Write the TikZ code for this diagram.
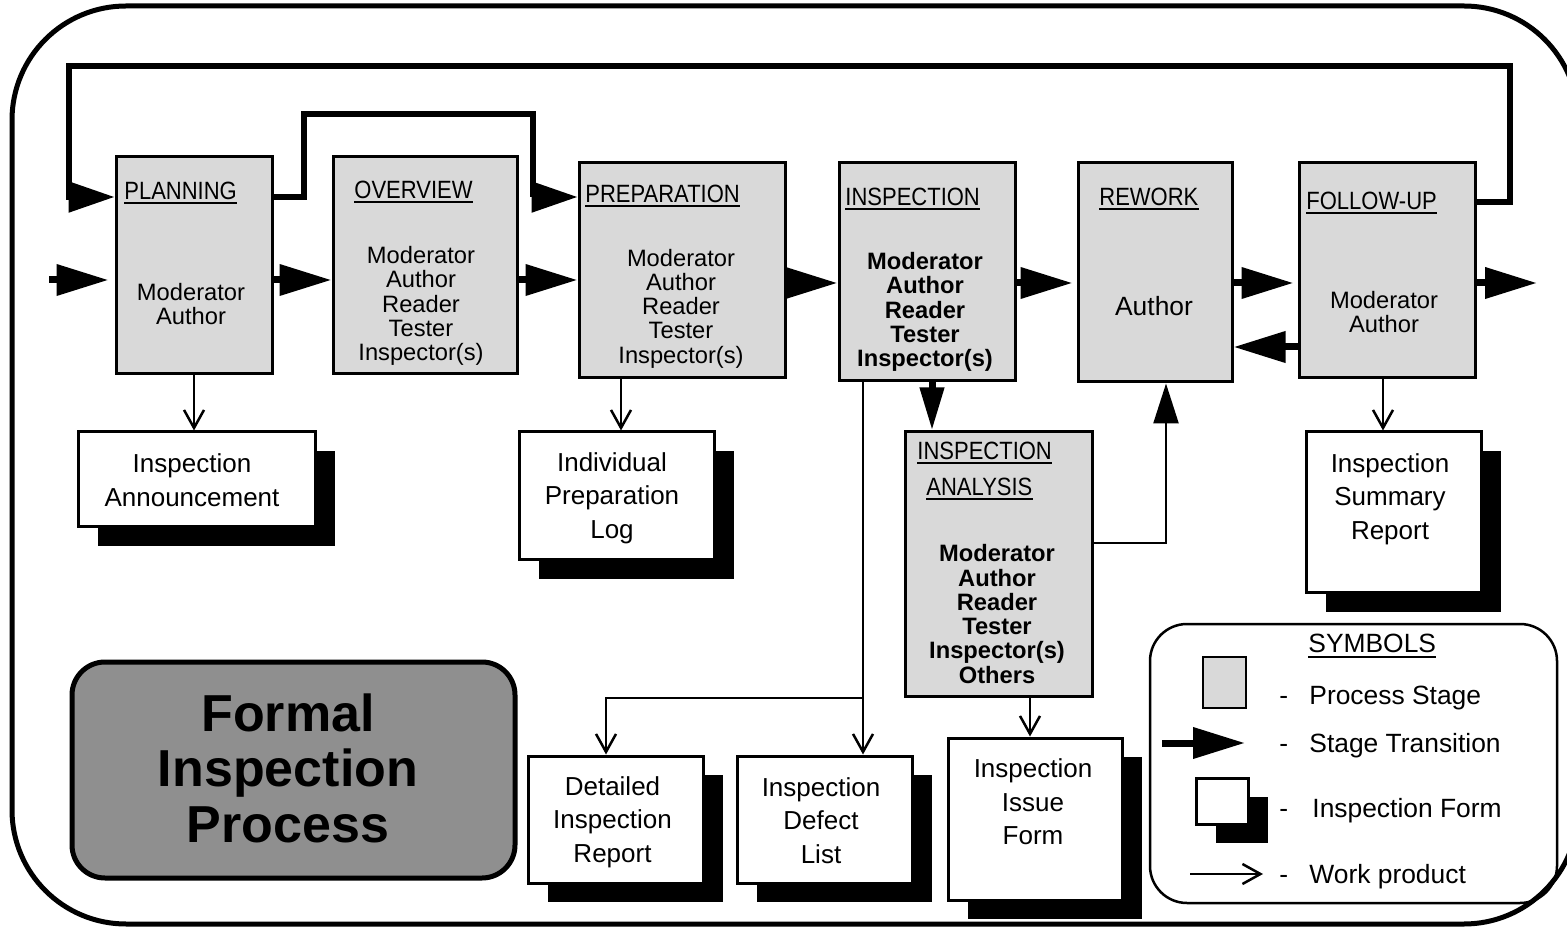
\documentclass[tikz,border=0pt]{standalone}
\usepackage{fontspec}
\setmainfont{Liberation Sans}
\newfontfamily\narrowfont[FakeStretch=0.88]{Liberation Sans}
\usetikzlibrary{arrows.meta,shadows}
\definecolor{stagegray}{RGB}{217,217,217}
\definecolor{titlegray}{RGB}{143,143,143}
\begin{document}
\begin{tikzpicture}[x=0.5pt,y=-0.5pt,
  stage/.style={draw, line width=1.5pt, fill=stagegray, inner sep=0pt},
  form/.style={draw, line width=1.5pt, fill=white, inner sep=0pt,
    drop shadow={shadow xshift=10pt, shadow yshift=-9.5pt, fill=black, opacity=1}},
  ttl/.style={inner sep=0pt, anchor=base west, font=\narrowfont\fontsize{12.5pt}{14pt}\selectfont},
  ulline/.style={line width=1pt},
  body/.style={align=center, inner sep=0pt, font=\fontsize{11.85pt}{12.15pt}\selectfont},
  boldbody/.style={align=center, inner sep=0pt, font=\bfseries\fontsize{11.85pt}{12.15pt}\selectfont},
  formtxt/.style={align=center, inner sep=0pt, font=\fontsize{13pt}{16.75pt}\selectfont},
  legtxt/.style={inner sep=0pt, anchor=base west, font=\fontsize{13.2pt}{15pt}\selectfont},
  trans/.style={line width=3.5pt, -{Triangle[length=26pt,width=15pt]}},
  loopline/.style={line width=2.75pt, -{Triangle[length=23pt,width=15pt]}},
  wp/.style={line width=1.25pt, -{Straight Barb[length=9pt,width=10pt]}}
]
\useasboundingbox (0,0) rectangle (1567,929);

% outer frame
\draw[line width=2.5pt, rounded corners=57pt] (12,6) rectangle (1578,924);

% stage boxes
\node[stage, minimum width=78pt, minimum height=108.5pt] (plan) at (194,265.5) {};
\node[stage, minimum width=92pt, minimum height=108.5pt] (over) at (425,265.5) {};
\node[stage, minimum width=103pt, minimum height=107.5pt] (prep) at (682,270.5) {};
\node[stage, minimum width=88pt, minimum height=109pt] (insp) at (927,272) {};
\node[stage, minimum width=77pt, minimum height=109.5pt] (rew) at (1155,272.5) {};
\node[stage, minimum width=88pt, minimum height=107.5pt] (foll) at (1387,270.5) {};
\node[stage, minimum width=93.5pt, minimum height=132pt] (ana) at (998.5,564) {};

% stage titles
\node[ttl] (tPlan) at (124,200) {PLANNING};
\node[ttl] (tOver) at (354,199) {OVERVIEW};
\node[ttl] (tPrep) at (585,203) {PREPARATION};
\node[ttl] (tInsp) at (845,206) {INSPECTION};
\node[ttl] (tRew) at (1099,206) {REWORK};
\node[ttl] (tFoll) at (1306,210) {FOLLOW-UP};
\node[ttl] (tAna1) at (917,460) {INSPECTION};
\node[ttl] (tAna2) at (926,496) {ANALYSIS};
\foreach \t in {tPlan,tOver,tPrep,tInsp,tRew,tFoll,tAna1,tAna2}{
  \draw[ulline] ([yshift=-1.75pt]\t.base west) -- ([yshift=-1.75pt]\t.base east);
}

% stage participants
\node[body] (planT) at (191,304) {Moderator\\Author};
\node[body] (overT) at (421,306) {Moderator\\Author\\Reader\\Tester\\Inspector(s)};
\node[body] (prepT) at (681,308.5) {Moderator\\Author\\Reader\\Tester\\Inspector(s)};
\node[boldbody] (inspT) at (925,312) {Moderator\\Author\\Reader\\Tester\\Inspector(s)};
\node[body, font=\fontsize{13.2pt}{15pt}\selectfont] (rewT) at (1154,306) {Author};
\node[body] (follT) at (1384,312) {Moderator\\Author};
\node[boldbody] (anaT) at (997,614) {Moderator\\Author\\Reader\\Tester\\Inspector(s)\\Others};

% inspection forms
\node[form, minimum width=118.5pt, minimum height=47.5pt] (ann) at (196.5,479.5) {};
\node[form, minimum width=97.5pt, minimum height=64pt] (log) at (616.5,496) {};
\node[form, minimum width=87.5pt, minimum height=63.5pt] (det) at (615.5,819.5) {};
\node[form, minimum width=87.5pt, minimum height=63.5pt] (def) at (824.5,819.5) {};
\node[form, minimum width=87pt, minimum height=81pt] (iss) at (1035,819) {};
\node[form, minimum width=87.5pt, minimum height=80.5pt] (sum) at (1393.5,512.5) {};

\node[formtxt] (annT) at (192,480) {Inspection\\Announcement};
\node[formtxt] (logT) at (612,498) {Individual\\Preparation\\Log};
\node[formtxt] (detT) at (612.5,822) {Detailed\\Inspection\\Report};
\node[formtxt] (defT) at (821,820.5) {Inspection\\Defect\\List};
\node[formtxt] (issT) at (1033,802) {Inspection\\Issue\\Form};
\node[formtxt] (sumT) at (1390,499) {Inspection\\Summary\\Report};

% title box
\node[draw, line width=2.5pt, fill=titlegray, rounded corners=16.5pt,
      minimum width=221.5pt, minimum height=108pt, inner sep=0pt] (formal) at (293.5,770) {};
\node[align=center, inner sep=0pt, font=\bfseries\fontsize{26pt}{27.75pt}\selectfont]
      (formalT) at (288,768) {Formal\\Inspection\\Process};

% stage transitions
\coordinate (inP) at (49,280);
\coordinate (outP) at (1537,283);
\draw[trans, shorten >=3pt] (inP) -- (plan.west |- inP);
\draw[trans] (plan.east |- inP) -- (over.west |- inP);
\draw[trans] (over.east |- inP) -- (prep.west |- inP);
\draw[trans] (prep.east |- outP) -- (insp.west |- outP);
\draw[trans, shorten >=2pt] (insp.east |- outP) -- (rew.west |- outP);
\draw[trans, shorten >=2pt] (rew.east |- outP) -- (foll.west |- outP);
\draw[trans] (foll.east |- outP) -- (outP);
\draw[trans] (foll.west |- 0,347) -- (rew.east |- 0,347);
\draw[line width=3.5pt, -{Triangle[length=21.5pt,width=11.5pt]}] (insp.south -| 932,0) -- (ana.north -| 932,0);

% feedback loops
\draw[loopline] (foll.east |- 0,202) -- (1510,202) -- (1510,66) -- (69,66) -- (69,197) -- (plan.west |- 0,197);
\draw[loopline] (plan.east |- 0,197) -- (304,197) -- (304,114) -- (533,114) -- (533,197) -- (prep.west |- 0,197);

% work products
\draw[wp] (plan.south) -- (plan.south |- ann.north);
\draw[wp] (prep.south -| 621,0) -- (log.north -| 621,0);
\coordinate (br) at (863,698);
\draw[wp] (insp.south -| br) -- (def.north -| br);
\draw[wp] (br) -- (606,698) -- (det.north -| 606,0);
\draw[wp] (ana.south -| 1030,0) -- (iss.north -| 1030,0);
\draw[wp] (foll.south -| 1383,0) -- (sum.north -| 1383,0);
\draw[line width=1.25pt, -{Triangle[length=20pt,width=12.5pt]}] (ana.east |- 0,543) -- (1166,543) -- (rew.south -| 1166,0);

% legend
\node[draw, line width=1.25pt, rounded corners=18.5pt, minimum width=203.5pt,
      minimum height=139.5pt, inner sep=0pt] (legend) at (1353.5,763.5) {};
\node[legtxt] (symT) at (1308,653) {SYMBOLS};
\draw[ulline] ([yshift=-1.75pt]symT.base west) -- ([yshift=-1.75pt]symT.base east);
\node[stage, line width=1.25pt, minimum width=21.5pt, minimum height=25.5pt] (symStage) at (1224.5,682.5) {};
\coordinate (lt1) at (1162,743);
\coordinate (lt2) at (1245,743);
\draw[trans] (lt1) -- (lt2);
\node[form, minimum width=26pt, minimum height=23pt] (symForm) at (1222,801) {};
\coordinate (lw1) at (1190,874);
\coordinate (lw2) at (1263,874);
\draw[wp] (lw1) -- (lw2);
\node[legtxt] (d1) at (1279,704) {-};
\node[legtxt] (l1) at (1309,704) {Process Stage};
\node[legtxt] (d2) at (1279,752) {-};
\node[legtxt] (l2) at (1309,752) {Stage Transition};
\node[legtxt] (d3) at (1279,817) {-};
\node[legtxt] (l3) at (1312,817) {Inspection Form};
\node[legtxt] (d4) at (1279,883) {-};
\node[legtxt] (l4) at (1309,883) {Work product};
\end{tikzpicture}
\end{document}
